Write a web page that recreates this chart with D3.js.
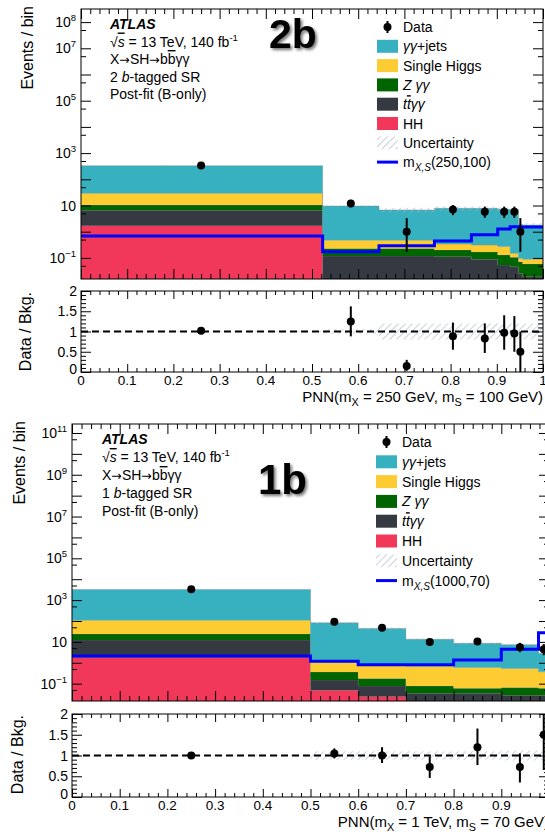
<!DOCTYPE html>
<html>
<head>
<meta charset="utf-8">
<script src="https://cdn.jsdelivr.net/npm/d3@7"></script>
<style>
  body { margin: 0; background: #fff; }
  svg { display: block; font-family: "Liberation Sans", Arial, sans-serif; }
</style>
</head>
<body>
<div id="chart"></div>
<script>
// ---- data ----
const layerKeys = ["hh", "tt", "zg", "sh", "gj"];   // stack order, bottom to top
const xTickLabels = ["0", "0.1", "0.2", "0.3", "0.4", "0.5", "0.6", "0.7", "0.8", "0.9", "1"];
const ratioTickLabels = [0, 0.5, 1, 1.5, 2];

// 2 b-tagged SR
const edges2b = [0, 0.523, 0.645, 0.765, 0.845, 0.902, 0.929, 0.947, 0.956, 1.0];
const gj2b  = [300, 9.1, 6.3, 7.5, 7.5, 6.9, 6.8, 1.8, 1.7];
const sh2b  = [18.9, 0.25, 0.25, 0.14, 0.14, 0.14, 0.045, 0.024, 0.03];
const zg2b  = [3.8, 0.11, 0.11, 0.09, 0.08, 0.076, 0.059, 0.046, 0.04];
const tt2b  = [4.9, 0.113, 0.113, 0.107, 0.086, 0.052, 0.044, 0.025, 0.018];
const hh2b  = [1.7, 0.004, 0.004, 0.003, 0.003, 0.002, 0.002, 0.001, 0.001];
const sig2b = [0.69, 0.17, 0.29, 0.44, 0.76, 1.27, 1.55, 1.5, 1.5];
const unc2b = [0.02, 0.06, 0.2, 0.2, 0.2, 0.2, 0.2, 0.2, 0.2];
const dataX2b   = [0.26, 0.584, 0.705, 0.805, 0.874, 0.916, 0.938, 0.951];
const data2b    = [340, 12, 1.0, 7.1, 5.8, 5.8, 5.8, 1.0];
const dataLo2b  = [18, 3.4, 0.83, 2.8, 2.4, 2.4, 2.4, 0.83];
const dataHi2b  = [18, 4.5, 2.3, 3.3, 3.3, 3.3, 3.3, 2.3];
const ratio2b   = [1.02, 1.25, 0.15, 0.88, 0.83, 0.97, 0.95, 0.5];
const ratioLo2b = [0.05, 0.37, 0.12, 0.33, 0.36, 0.42, 0.45, 0.5];
const ratioHi2b = [0.05, 0.37, 0.15, 0.34, 0.37, 0.43, 0.43, 0.5];
const yTicks2b  = [1e8, 1e7, 1e5, 1e3, 10, 0.1];

// 1 b-tagged SR
const edges1b = [0, 0.5, 0.6, 0.7, 0.8, 0.9, 0.978, 1.0];
const gj1b  = [3140, 80, 43, 12.6, 7.9, 6.8, 2.5];
const sh1b  = [86, 0.9, 0.69, 0.61, 0.54, 0.47, 0.31];
const zg1b  = [11.4, 0.21, 0.10, 0.042, 0.025, 0.038, 0.032];
const tt1b  = [10.4, 0.10, 0.053, 0.027, 0.029, 0.023, 0.023];
const hh1b  = [1.8, 0.049, 0.024, 0.008, 0.006, 0.005, 0.005];
const sig1b = [2.1, 1.17, 0.8, 0.8, 1.35, 4.5, 27];
const unc1b = [0.02, 0.1, 0.1, 0.1, 0.1, 0.12, 0.12];
const dataX1b   = [0.25, 0.55, 0.65, 0.75, 0.85, 0.939, 0.989];
const data1b    = [3350, 91, 47, 9.8, 10.3, 5.5, 4.4];
const dataLo1b  = [58, 9.5, 6.8, 3.1, 3.2, 2.3, 2.1];
const dataHi1b  = [58, 10, 7.3, 3.7, 3.7, 3.5, 3.5];
const ratio1b   = [1.0, 1.05, 1.0, 0.72, 1.2, 0.72, 1.5];
const ratioLo1b = [0.02, 0.12, 0.18, 0.26, 0.43, 0.37, 0.85];
const ratioHi1b = [0.02, 0.12, 0.2, 0.26, 0.45, 0.33, 0.55];
const yTicks1b  = [1e11, 1e9, 1e7, 1e5, 1e3, 10, 0.1];

const colors = { gj: "#37b1c0", sh: "#fdcb32", zg: "#006400", tt: "#353942", hh: "#f1385b" };

// ---- drawing ----
const svg = d3.select("#chart").append("svg").attr("width", 545).attr("height", 832);
const defs = svg.append("defs");

const pat = defs.append("pattern")
    .attr("id", "hatch")
    .attr("patternUnits", "userSpaceOnUse")
    .attr("width", 5).attr("height", 5)
    .attr("patternTransform", "rotate(45)");
pat.append("line")
    .attr("x1", 0).attr("y1", 0).attr("x2", 0).attr("y2", 5)
    .attr("stroke", "#a9b3c6").attr("stroke-width", 1.2);

defs.append("filter").attr("id", "shadow")
    .attr("x", "-20%").attr("y", "-20%").attr("width", "160%").attr("height", "160%")
  .append("feDropShadow")
    .attr("dx", 2).attr("dy", 2).attr("stdDeviation", 1.8)
    .attr("flood-color", "#000").attr("flood-opacity", 0.55);

// rich text: parts = [[text, flags]]; i italic, b bold, o overline, ^ sup, _ sub, a arrow font
function rich(sel, parts) {
  let shift = 0;
  parts.forEach(([t, s = ""]) => {
    const ts = sel.append("tspan").text(t);
    const target = s.includes("^") ? -6 : s.includes("_") ? 4 : 0;
    if (target !== shift) { ts.attr("dy", target - shift); shift = target; }
    if (s.includes("i")) ts.style("font-style", "italic");
    if (s.includes("b")) ts.style("font-weight", "bold");
    if (s.includes("o")) ts.style("text-decoration", "overline");
    if (s.includes("^")) ts.style("font-size", "0.68em");
    if (s.includes("_")) ts.style("font-size", "0.72em");
    if (s.includes("a")) ts.style("font-family", "'DejaVu Sans', sans-serif").style("font-size", "0.9em");
  });
  return sel;
}

function stepPoints(edges, vals) {
  const pts = [];
  vals.forEach((v, i) => { pts.push({ x: edges[i], v }); pts.push({ x: edges[i + 1], v }); });
  return pts;
}

function drawPanel(p) {
  const g = svg.append("g");
  const x = d3.scaleLinear().domain([0, 1]).range([p.left, p.right]);
  const y = d3.scaleLog().domain(p.yDomain).range([p.mainBottom, p.mainTop]);
  const r = d3.scaleLinear().domain([0, 2]).range([p.ratioBottom, p.ratioTop]);
  const yMin = p.yDomain[0];

  defs.append("clipPath").attr("id", "clipM" + p.id).append("rect")
      .attr("x", p.left).attr("y", p.mainTop)
      .attr("width", p.right - p.left).attr("height", p.mainBottom - p.mainTop);
  defs.append("clipPath").attr("id", "clipR" + p.id).append("rect")
      .attr("x", p.left).attr("y", p.ratioTop)
      .attr("width", p.right - p.left).attr("height", p.ratioBottom - p.ratioTop);

  // stacked backgrounds
  const rows = p.hh.map((_, i) => ({ hh: p.hh[i], tt: p.tt[i], zg: p.zg[i], sh: p.sh[i], gj: p.gj[i] }));
  const stacked = d3.stack().keys(layerKeys)(rows);
  const main = g.append("g").attr("clip-path", `url(#clipM${p.id})`);

  const area = d3.area()
      .x(d => x(d.x))
      .y0(d => y(Math.max(d.lo, yMin)))
      .y1(d => y(Math.max(d.hi, yMin)));

  stacked.forEach(layer => {
    const pts = [];
    layer.forEach((d, i) => {
      pts.push({ x: p.edges[i], lo: d[0], hi: d[1] });
      pts.push({ x: p.edges[i + 1], lo: d[0], hi: d[1] });
    });
    main.append("path").attr("d", area(pts)).attr("fill", colors[layer.key]);
    main.append("path")
        .attr("d", d3.line().x(d => x(d.x)).y(d => y(Math.max(d.hi, yMin)))(pts))
        .attr("fill", "none").attr("stroke", "#7a7a7a").attr("stroke-opacity", 0.45).attr("stroke-width", 0.8);
  });

  // uncertainty band on total
  const totals = rows.map(d => layerKeys.reduce((s, k) => s + d[k], 0));
  const uncPts = [];
  totals.forEach((t, i) => {
    uncPts.push({ x: p.edges[i], lo: t * (1 - p.unc[i]), hi: t * (1 + p.unc[i]) });
    uncPts.push({ x: p.edges[i + 1], lo: t * (1 - p.unc[i]), hi: t * (1 + p.unc[i]) });
  });
  main.append("path").attr("d", area(uncPts)).attr("fill", "url(#hatch)");

  // signal
  main.append("path")
      .attr("d", d3.line().x(d => x(d.x)).y(d => y(d.v))(stepPoints(p.edges, p.sig)))
      .attr("fill", "none").attr("stroke", "#0000ff").attr("stroke-width", 3);

  // data
  const pts = p.dataX.map((xv, i) => ({ x: xv, v: p.data[i], lo: p.dataLo[i], hi: p.dataHi[i] }));
  main.selectAll("line.err").data(pts).join("line")
      .attr("class", "err")
      .attr("x1", d => x(d.x)).attr("x2", d => x(d.x))
      .attr("y1", d => y(Math.max(d.v - d.lo, yMin))).attr("y2", d => y(d.v + d.hi))
      .attr("stroke", "#000").attr("stroke-width", 2);
  main.selectAll("circle.pt").data(pts).join("circle")
      .attr("class", "pt")
      .attr("cx", d => x(d.x)).attr("cy", d => y(d.v)).attr("r", 4).attr("fill", "#000");

  // ratio panel
  const rat = g.append("g").attr("clip-path", `url(#clipR${p.id})`);
  const rArea = d3.area().x(d => x(d.x)).y0(d => r(1 - d.v)).y1(d => r(1 + d.v));
  rat.append("path").attr("d", rArea(stepPoints(p.edges, p.unc))).attr("fill", "url(#hatch)");
  rat.append("line")
      .attr("x1", x(0)).attr("x2", x(1)).attr("y1", r(1)).attr("y2", r(1))
      .attr("stroke", "#000").attr("stroke-width", 2).attr("stroke-dasharray", "7,4");
  const rp = p.dataX.map((xv, i) => ({ x: xv, v: p.ratio[i], lo: p.ratioLo[i], hi: p.ratioHi[i] }));
  rat.selectAll("line.rerr").data(rp).join("line")
      .attr("class", "rerr")
      .attr("x1", d => x(d.x)).attr("x2", d => x(d.x))
      .attr("y1", d => r(d.v - d.lo)).attr("y2", d => r(d.v + d.hi))
      .attr("stroke", "#000").attr("stroke-width", 2);
  rat.selectAll("circle.rpt").data(rp).join("circle")
      .attr("class", "rpt")
      .attr("cx", d => x(d.x)).attr("cy", d => r(d.v)).attr("r", 4).attr("fill", "#000");

  // frames
  [[p.mainTop, p.mainBottom], [p.ratioTop, p.ratioBottom]].forEach(([t, b]) => {
    g.append("rect").attr("x", p.left).attr("y", t).attr("width", p.right - p.left).attr("height", b - t)
        .attr("fill", "none").attr("stroke", "#000").attr("stroke-width", 1);
  });

  // inward ticks through d3 axes
  function tickAxis(axisFn, scale, vals, len, tx, ty) {
    g.append("g").attr("transform", `translate(${tx},${ty})`)
        .call(axisFn(scale).tickValues(vals).tickSize(-len).tickSizeOuter(0).tickFormat(""))
        .call(a => a.select(".domain").remove());
  }
  const xMajor = d3.range(0, 11).map(i => i / 10);
  const xMinor = d3.range(0, 51).filter(i => i % 5).map(i => i / 50);
  [[d3.axisBottom, p.mainBottom], [d3.axisTop, p.mainTop]].forEach(([fn, yy]) => {
    tickAxis(fn, x, xMajor, 10, 0, yy); tickAxis(fn, x, xMinor, 5, 0, yy);
  });
  [[d3.axisBottom, p.ratioBottom], [d3.axisTop, p.ratioTop]].forEach(([fn, yy]) => {
    tickAxis(fn, x, xMajor, 8, 0, yy); tickAxis(fn, x, xMinor, 4, 0, yy);
  });
  const lo = Math.ceil(Math.log10(p.yDomain[0])), hi = Math.floor(Math.log10(p.yDomain[1]));
  const decades = d3.range(lo, hi + 1).map(e => Math.pow(10, e));
  const fives = d3.range(lo - 1, hi + 1).map(e => 5 * Math.pow(10, e)).filter(v => v > p.yDomain[0] && v < p.yDomain[1]);
  [[d3.axisLeft, p.left], [d3.axisRight, p.right]].forEach(([fn, xx]) => {
    tickAxis(fn, y, decades, 10, xx, 0); tickAxis(fn, y, fives, 5, xx, 0);
    tickAxis(fn, r, [0, 0.5, 1, 1.5, 2], 10, xx, 0);
    tickAxis(fn, r, d3.range(0, 21).filter(i => i % 5).map(i => i / 10), 5, xx, 0);
  });

  // tick labels
  p.yTicks.forEach(v => {
    const e = Math.round(Math.log10(v));
    const t = g.append("text").attr("x", p.left - 5).attr("y", y(v) + 5)
        .attr("text-anchor", "end").style("font-size", "14px");
    if (e === 1) t.text("10");
    else rich(t, [["10"], [e < 0 ? "\u2212" + (-e) : String(e), "^"]]);
  });
  ratioTickLabels.forEach(v => {
    g.append("text").attr("x", p.left - 4).attr("y", r(v) + (v === 0 ? 2 : 5))
        .attr("text-anchor", "end").style("font-size", "14px").text(v);
  });
  xTickLabels.forEach((t, i) => {
    g.append("text").attr("x", x(xMajor[i])).attr("y", p.ratioBottom + 13)
        .attr("text-anchor", "middle").style("font-size", "13.5px").text(t);
  });

  // axis titles
  g.append("text").attr("transform", `translate(${p.yTitleX},${p.mainTop - 3}) rotate(-90)`)
      .attr("text-anchor", "end").style("font-size", "16px").text("Events / bin");
  g.append("text").attr("transform", `translate(${p.yTitleX - 2},${p.ratioTop + 1}) rotate(-90)`)
      .attr("text-anchor", "end").style("font-size", "16px").text("Data / Bkg.");
  rich(g.append("text").attr("x", p.right).attr("y", p.xTitleY)
      .attr("text-anchor", "end").style("font-size", "15px"), p.xTitle);

  // ATLAS label block
  const info = [
    [["ATLAS", "bi"]],
    [["\u221A"], ["s", "io"], [" = 13 TeV, 140 fb"], ["-1", "^"]],
    [["X"], ["\u2192", "a"], ["SH"], ["\u2192", "a"], ["b"], ["b", "o"], ["\u03B3\u03B3"]],
    [[p.nb + " "], ["b", "i"], ["-tagged SR"]],
    [["Post-fit (B-only)"]]
  ];
  info.forEach((parts, i) => {
    rich(g.append("text").attr("x", p.textX).attr("y", p.textY + i * p.lineH)
        .style("font-size", "14px"), parts);
  });

  g.append("text").attr("x", p.bigX).attr("y", p.bigY)
      .style("font-size", p.bigSize + "px").style("font-weight", "bold")
      .attr("filter", "url(#shadow)").text(p.big);

  // legend
  const lx = p.legX, lw = 21;
  const leg = [
    { type: "data", label: [["Data"]] },
    { type: "box", fill: colors.gj, label: [["\u03B3\u03B3", "i"], ["+jets"]] },
    { type: "box", fill: colors.sh, label: [["Single Higgs"]] },
    { type: "box", fill: colors.zg, label: [["Z ", "i"], ["\u03B3\u03B3", "i"]] },
    { type: "box", fill: colors.tt, label: [["t", "i"], ["t", "io"], ["\u03B3\u03B3", "i"]] },
    { type: "box", fill: colors.hh, label: [["HH"]] },
    { type: "box", fill: "url(#hatch)", label: [["Uncertainty"]] },
    { type: "line", label: [["m"], ["X,S", "_i"], [p.sigLabel]] }
  ];
  leg.forEach((d, i) => {
    const cy = p.legY + i * p.legDy;
    if (d.type === "data") {
      g.append("line").attr("x1", lx + lw / 2).attr("x2", lx + lw / 2).attr("y1", cy - 6).attr("y2", cy + 6)
          .attr("stroke", "#000").attr("stroke-width", 2);
      g.append("circle").attr("cx", lx + lw / 2).attr("cy", cy).attr("r", 4).attr("fill", "#000");
    } else if (d.type === "box") {
      g.append("rect").attr("x", lx).attr("y", cy - 6.5).attr("width", lw).attr("height", 13).attr("fill", d.fill);
    } else {
      g.append("line").attr("x1", lx).attr("x2", lx + lw).attr("y1", cy).attr("y2", cy)
          .attr("stroke", "#0000ff").attr("stroke-width", 3);
    }
    rich(g.append("text").attr("x", lx + lw + 5).attr("y", cy + 5).style("font-size", "14px"), d.label);
  });
}

drawPanel({
  id: "2b", big: "2b", nb: "2", sigLabel: "(250,100)",
  edges: edges2b, gj: gj2b, sh: sh2b, zg: zg2b, tt: tt2b, hh: hh2b, sig: sig2b, unc: unc2b,
  dataX: dataX2b, data: data2b, dataLo: dataLo2b, dataHi: dataHi2b,
  ratio: ratio2b, ratioLo: ratioLo2b, ratioHi: ratioHi2b, yTicks: yTicks2b,
  yDomain: [Math.pow(10, -1.805), Math.pow(10, 8.5)],
  left: 81, right: 543, mainTop: 9, mainBottom: 279, ratioTop: 291, ratioBottom: 372,
  yTitleX: 33, xTitleY: 402,
  xTitle: [["PNN(m"], ["X", "_"], [" = 250 GeV, m"], ["S", "_"], [" = 100 GeV)"]],
  textX: 110, textY: 29, lineH: 17.5,
  bigX: 269, bigY: 48, bigSize: 41,
  legX: 377, legY: 27, legDy: 19.3
});

drawPanel({
  id: "1b", big: "1b", nb: "1", sigLabel: "(1000,70)",
  edges: edges1b, gj: gj1b, sh: sh1b, zg: zg1b, tt: tt1b, hh: hh1b, sig: sig1b, unc: unc1b,
  dataX: dataX1b, data: data1b, dataLo: dataLo1b, dataHi: dataHi1b,
  ratio: ratio1b, ratioLo: ratioLo1b, ratioHi: ratioHi1b, yTicks: yTicks1b,
  yDomain: [Math.pow(10, -1.83), Math.pow(10, 11.43)],
  left: 72, right: 549, mainTop: 424, mainBottom: 701, ratioTop: 714, ratioBottom: 797,
  yTitleX: 25, xTitleY: 827,
  xTitle: [["PNN(m"], ["X", "_"], [" = 1 TeV, m"], ["S", "_"], [" = 70 GeV)"]],
  textX: 102, textY: 444, lineH: 18,
  bigX: 258, bigY: 494, bigSize: 42,
  legX: 376, legY: 442, legDy: 19.8
});
</script>
</body>
</html>
